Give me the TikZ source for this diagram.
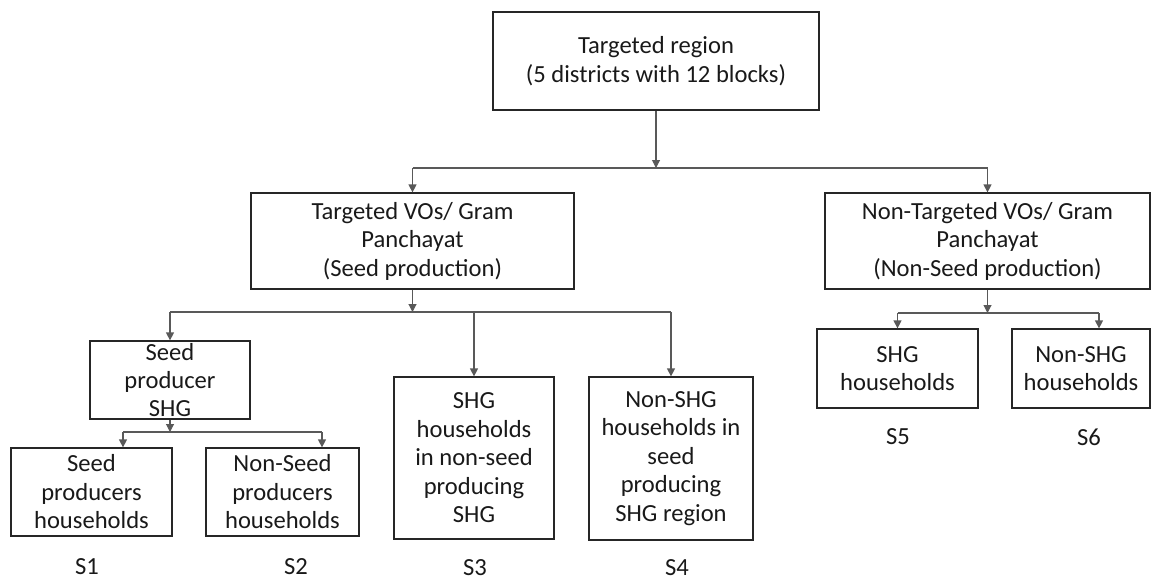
\documentclass[tikz,border=0pt]{standalone}
\usepackage{fontspec}
\setmainfont{Carlito}
\usetikzlibrary{arrows.meta}
\begin{document}
\begin{tikzpicture}[x=0.02cm,y=-0.02cm,
	box/.style={draw=black!85,line width=0.7pt,align=center,inner sep=0pt,
		font=\fontsize{14}{16.2}\selectfont,text=black!90},
	lbl/.style={inner sep=0pt,font=\fontsize{14}{16}\selectfont,text=black!90},
	con/.style={draw=black!65,line width=0.6pt},
	arr/.style={con,-{Triangle[length=4.5pt,width=4.5pt]}}]
	\useasboundingbox (0,0) rectangle (1153,582);
	\node[box,minimum width=326*0.02cm,minimum height=98*0.02cm] (top) at (656,61) {Targeted region\\(5 districts with 12 blocks)};
	\node[box,minimum width=323*0.02cm,minimum height=96*0.02cm] (tvo) at (412.5,241) {Targeted VOs/ Gram\\Panchayat\\(Seed production)};
	\node[box,minimum width=325*0.02cm,minimum height=96*0.02cm] (ntvo) at (987.5,241) {Non-Targeted VOs/ Gram\\Panchayat\\(Non-Seed production)};
	\node[box,inner ysep=-4pt,minimum width=160*0.02cm,minimum height=78*0.02cm] (spshg) at (170,380) {Seed\\producer\\SHG};
	\node[box,minimum width=161*0.02cm,minimum height=88*0.02cm] (sph) at (91.5,492) {Seed\\producers\\households};
	\node[box,minimum width=153*0.02cm,minimum height=88*0.02cm] (nsph) at (282.5,492) {Non-Seed\\producers\\households};
	\node[box,minimum width=160*0.02cm,minimum height=162*0.02cm] (shgns) at (474,458) {SHG\\households\\in non-seed\\producing\\SHG};
	\node[box,minimum width=164*0.02cm,minimum height=163*0.02cm] (nshgs) at (671,458.5) {Non-SHG\\households in\\seed\\producing\\SHG region};
	\node[box,minimum width=161*0.02cm,minimum height=79*0.02cm] (shgh) at (897.5,368.5) {SHG\\households};
	\node[box,minimum width=138*0.02cm,minimum height=79*0.02cm] (nshgh) at (1081,368.5) {Non-SHG\\households};
	\node[lbl] (s1) at (87,567) {S1};
	\node[lbl] (s2) at (296,567) {S2};
	\node[lbl] (s3) at (475,568) {S3};
	\node[lbl] (s4) at (677,568) {S4};
	\node[lbl] (s5) at (898,437) {S5};
	\node[lbl] (s6) at (1089,437) {S6};
	\coordinate (j1) at (656,168);
	\coordinate (j2) at (412.5,312);
	\coordinate (j3) at (170,432);
	\coordinate (j4) at (987.5,313);
	\coordinate (b1) at (123,432);
	\coordinate (b2) at (322,432);
	\coordinate (b3) at (1099,313);
	\draw[arr] (top.south) -- (j1);
	\draw[con] (j1 -| tvo.north) -- (j1 -| ntvo.north);
	\draw[arr] (j1 -| tvo.north) -- (tvo.north);
	\draw[arr] (j1 -| ntvo.north) -- (ntvo.north);
	\draw[arr] (tvo.south) -- (j2);
	\draw[con] (j2 -| spshg.north) -- (j2 -| nshgs.north);
	\draw[arr] (j2 -| spshg.north) -- (spshg.north);
	\draw[arr] (j2 -| shgns.north) -- (shgns.north);
	\draw[arr] (j2 -| nshgs.north) -- (nshgs.north);
	\draw[arr] (spshg.south) -- (j3);
	\draw[con] (b1) -- (b2);
	\draw[arr] (b1) -- (b1 |- sph.north);
	\draw[arr] (b2) -- (b2 |- nsph.north);
	\draw[arr] (ntvo.south) -- (j4);
	\draw[con] (j4 -| shgh.north) -- (b3);
	\draw[arr] (j4 -| shgh.north) -- (shgh.north);
	\draw[arr] (b3) -- (b3 |- nshgh.north);
\end{tikzpicture}
\end{document}
